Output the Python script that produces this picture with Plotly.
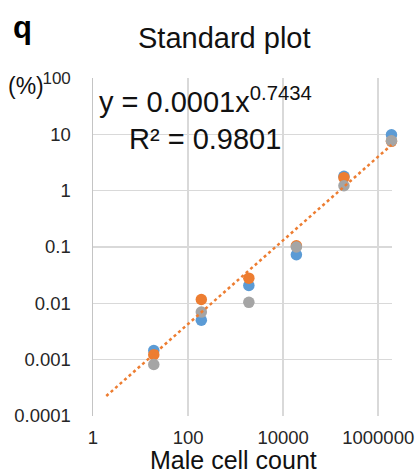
import numpy as np
import plotly.graph_objects as go

# ---- data ----
male_cells = [19, 190, 1900, 19000, 190000, 1900000]
series_blue = [0.00145, 0.0050, 0.0207, 0.073, 1.80, 9.8]
series_orange = [0.00122, 0.0117, 0.0280, 0.105, 1.70, 7.5]
series_gray = [0.00082, 0.0070, 0.0104, 0.100, 1.22, 7.7]

y_tickvals = [0.0001, 0.001, 0.01, 0.1, 1, 10, 100]
y_ticktext = ["0.0001", "0.001", "0.01", "0.1", "1", "10",
              "<span style='font-size:17px'>100</span>"]
x_tickvals = [1, 100, 10000, 1000000]
x_ticktext = ["1", "100", "10000", "1000000"]

equation_text = "y = 0.0001x<sup>0.7434</sup>"
r2_text = "R² = 0.9801"

# ---- power trendline fitted to the orange series (as Excel does) ----
lx = np.log10(male_cells)
ly = np.log10(series_orange)
slope, intercept = np.polyfit(lx, ly, 1)
trend_x = np.geomspace(male_cells[0] / 10, male_cells[-1], 80)
trend_y = 10 ** intercept * trend_x ** slope

FONT = "Liberation Sans, Arial, sans-serif"
blue, orange, gray = "#5B9BD5", "#ED7D31", "#A5A5A5"

fig = go.Figure()
for vals, col in [(series_blue, blue), (series_orange, orange), (series_gray, gray)]:
    fig.add_trace(go.Scatter(x=male_cells, y=vals, mode="markers",
                             marker=dict(size=11.5, color=col, line=dict(width=0)),
                             showlegend=False, cliponaxis=False))
fig.add_trace(go.Scatter(x=trend_x, y=trend_y, mode="lines",
                         line=dict(color=orange, width=2.5, dash="dot"),
                         showlegend=False))

W, H = 419, 476
# plot area in window pixels: x 93..392, y 78..416
L, R, T, B = 93, W - 392, 78, H - 416
pw, ph = W - L - R, H - T - B

def px(x):
    return (x - L) / pw

def py(y):
    return (H - B - y) / ph

def ann(text, x, y, size, color="#111111"):
    return dict(text=text, xref="paper", yref="paper", x=px(x), y=py(y),
                xanchor="center", yanchor="middle", showarrow=False,
                font=dict(size=size, color=color))

fig.update_layout(
    width=W, height=H,
    margin=dict(l=L, r=R, t=T, b=B, autoexpand=False),
    paper_bgcolor="white", plot_bgcolor="white",
    font=dict(family=FONT, color="#222222"),
    hovermode=False,
    xaxis=dict(type="log", range=[0, 6.29], tickvals=x_tickvals, ticktext=x_ticktext,
               showgrid=True, gridcolor="#D9D9D9", gridwidth=1.5,
               zeroline=False, showline=False, ticks="",
               tickfont=dict(size=18.5, color="#262626"), ticklabelstandoff=8),
    yaxis=dict(type="log", range=[-4, 2], tickvals=y_tickvals, ticktext=y_ticktext,
               showgrid=True, gridcolor="#D9D9D9", gridwidth=1.5,
               zeroline=False, showline=True, linecolor="#C4C4C4", linewidth=1.5,
               ticks="", tickfont=dict(size=18.5, color="#262626"), ticklabelstandoff=17),
    shapes=[dict(type="line", xref="paper", x0=0, x1=1, yref="y", y0=0, y1=0,
                 line=dict(color="#BFBFBF", width=1.5), layer="below")],
    annotations=[
        ann("<b>q</b>", 22, 28, 31, color="black"),
        ann("Standard plot", 224, 38, 29),
        ann("(%)", 26, 86, 23),
        ann(equation_text, 205, 100, 29),
        ann(r2_text, 205, 139, 29),
        ann("Male cell count", 233, 460, 25),
    ],
)

# remove the page's default body margin so the figure fills the window exactly
fig.write_html("out.html",
               config={"displayModeBar": False, "staticPlot": True},
               post_script="document.body.style.margin='0';"
                           "document.body.style.overflow='hidden';")
